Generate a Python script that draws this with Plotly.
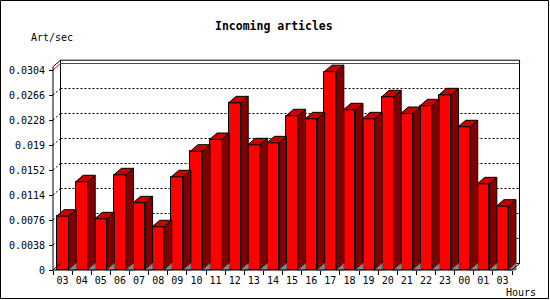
import plotly.graph_objects as go

# ---------------- data ----------------
hours = ["03", "04", "05", "06", "07", "08", "09", "10", "11", "12", "13", "14",
         "15", "16", "17", "18", "19", "20", "21", "22", "23", "00", "01", "03"]
rates = [0.00818, 0.01341, 0.00778, 0.01447, 0.01021, 0.00657, 0.01417, 0.01806,
         0.01984, 0.02541, 0.01903, 0.01933, 0.02344, 0.02298, 0.03015, 0.02435,
         0.02298, 0.02633, 0.02379, 0.02496, 0.02663, 0.02177, 0.01310, 0.00970]
y_tick_values = [0, 0.0038, 0.0076, 0.0114, 0.0152, 0.019, 0.0228, 0.0266, 0.0304]
y_tick_labels = ["0", "0.0038", "0.0076", "0.0114", "0.0152", "0.019", "0.0228", "0.0266", "0.0304"]
max_line_value = 0.0304
title_text = "Incoming articles"
y_title = "Art/sec"
x_title = "Hours"

# ---------------- layout geometry (pixels) ----------------
W, H = 550, 300
PL, PR, PT, PB = 40, 530, 50, 285      # plot area
X0PX, Y0PX = 53, 270                   # front axis origin
SLOT = 19.125                          # px per category
K = 200 / 0.0304                       # px per unit of value
DX, DY = 7.5, 6.5                      # 3D depth in px
YTOP = 0.0309                          # top of value axis
BW = 0.63                              # bar width (category units)

pos = list(range(len(hours)))
xr = [-0.5 - (X0PX - PL) / SLOT, -0.5 + (PR - X0PX) / SLOT]
yr = [-(PB - Y0PX) / K, (Y0PX - PT) / K]
dxu = DX / SLOT
dyu = DY / K
xl_end = -0.5
xr_end = len(hours) - 0.5


def px_x(px):
    return (px - PL) / (PR - PL)


def px_y(py):
    return (PB - py) / (PB - PT)


FONT = "DejaVu Sans Mono"

fig = go.Figure()

# front faces
fig.add_trace(go.Bar(x=pos, y=rates, width=BW,
                     marker=dict(color="#FF0000", line=dict(color="black", width=1)),
                     hoverinfo="skip", showlegend=False))

side_x, side_y, top_x, top_y, tri_x, tri_y = [], [], [], [], [], []
for p, v in zip(pos, rates):
    a = p - BW / 2
    b = p + BW / 2
    side_x += [b, b + dxu, b + dxu, b, b, None]
    side_y += [v, v + dyu, dyu, 0, v, None]
    top_x += [a, a + dxu, b + dxu, b, a, None]
    top_y += [v, v + dyu, v + dyu, v, v, None]
    tri_x += [b, b + dxu, b + dxu, b, None]
    tri_y += [0, dyu, 0, 0, None]

fig.add_trace(go.Scatter(x=side_x, y=side_y, mode="lines", fill="toself",
                         fillcolor="#800000", line=dict(color="black", width=1),
                         hoverinfo="skip", showlegend=False))
fig.add_trace(go.Scatter(x=tri_x, y=tri_y, mode="lines", fill="toself",
                         fillcolor="#888888", line=dict(color="#666666", width=1),
                         hoverinfo="skip", showlegend=False))
fig.add_trace(go.Scatter(x=top_x, y=top_y, mode="lines", fill="toself",
                         fillcolor="#C80000", line=dict(color="black", width=1),
                         hoverinfo="skip", showlegend=False))

shapes = []
# back plane
shapes.append(dict(type="rect", xref="x", yref="y", layer="below",
                   x0=xl_end + dxu, x1=xr_end + dxu, y0=dyu, y1=YTOP + dyu,
                   fillcolor="white", line=dict(color="black", width=1)))
# gridlines on back plane + connectors on left wall
for t in y_tick_values[1:-1]:
    shapes.append(dict(type="line", xref="x", yref="y", layer="below",
                       x0=xl_end + dxu, x1=xr_end + dxu, y0=t + dyu, y1=t + dyu,
                       line=dict(color="black", width=1, dash="2px,2px")))
    shapes.append(dict(type="line", xref="x", yref="y", layer="below",
                       x0=xl_end, x1=xl_end + dxu, y0=t, y1=t + dyu,
                       line=dict(color="black", width=1, dash="2px,2px")))
# red max line
shapes.append(dict(type="line", xref="x", yref="y", layer="below",
                   x0=xl_end + dxu, x1=xr_end + dxu, y0=max_line_value + dyu, y1=max_line_value + dyu,
                   line=dict(color="red", width=1)))
shapes.append(dict(type="line", xref="x", yref="y", layer="below",
                   x0=xl_end, x1=xl_end + dxu, y0=max_line_value, y1=max_line_value + dyu,
                   line=dict(color="red", width=1)))
# front axes and wall edges
for (x0, y0, x1, y1) in [
    (xl_end, 0, xl_end, YTOP),
    (xl_end, YTOP, xl_end + dxu, YTOP + dyu),
    (xl_end, 0, xr_end, 0),
    (xr_end, 0, xr_end + dxu, dyu),
    (xl_end, 0, xl_end + dxu, dyu),
]:
    shapes.append(dict(type="line", xref="x", yref="y", layer="above",
                       x0=x0, y0=y0, x1=x1, y1=y1, line=dict(color="black", width=1)))
# outer frame
shapes.append(dict(type="rect", xref="paper", yref="paper", layer="above",
                   x0=px_x(0.5), x1=px_x(548.5), y0=px_y(298.5), y1=px_y(0.5),
                   line=dict(color="black", width=1)))

annotations = [
    dict(text="<b>" + title_text + "</b>", xref="paper", yref="paper",
         x=px_x(274), y=px_y(26.5), xanchor="center", yanchor="middle", showarrow=False,
         font=dict(family=FONT, size=11.5, color="black")),
    dict(text=y_title, xref="paper", yref="paper",
         x=px_x(29), y=px_y(37), xanchor="left", yanchor="middle", showarrow=False,
         font=dict(family=FONT, size=10, color="black")),
    dict(text=x_title, xref="paper", yref="paper",
         x=px_x(504), y=px_y(292), xanchor="left", yanchor="middle", showarrow=False,
         font=dict(family=FONT, size=10, color="black")),
]

fig.update_layout(
    width=W, height=H, autosize=False,
    margin=dict(l=PL, r=W - PR, t=PT, b=H - PB, pad=0, autoexpand=False),
    paper_bgcolor="white", plot_bgcolor="white",
    bargap=0, showlegend=False,
    shapes=shapes, annotations=annotations,
    xaxis=dict(range=xr, anchor="free", position=px_y(Y0PX), automargin=False,
               showgrid=False, zeroline=False, showline=False,
               tickmode="array", tickvals=pos, ticktext=hours, ticks="",
               ticklabelstandoff=3,
               tickfont=dict(family=FONT, size=10, color="black"),
               minor=dict(tickmode="array", tickvals=[p - 0.5 for p in pos] + [xr_end],
                          ticks="outside", ticklen=4, tickcolor="black", tickwidth=1,
                          showgrid=False)),
    yaxis=dict(range=yr, anchor="free", position=px_x(X0PX), automargin=False,
               showgrid=False, zeroline=False, showline=False,
               tickmode="array", tickvals=y_tick_values, ticktext=y_tick_labels,
               ticks="outside", ticklen=4, tickcolor="black", tickwidth=1,
               ticklabelstandoff=2,
               tickfont=dict(family=FONT, size=10, color="black")),
)

fig.write_html("out.html")
